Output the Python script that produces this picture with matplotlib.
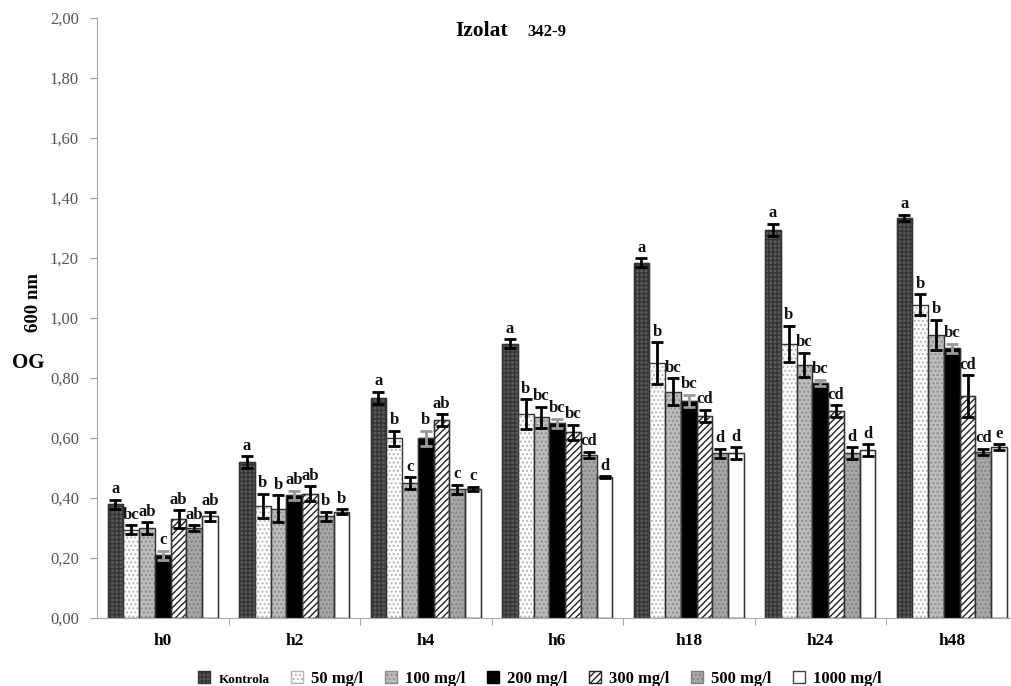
import matplotlib
matplotlib.use("Agg")
import matplotlib.pyplot as plt
import numpy as np

plt.rcParams['hatch.linewidth'] = 1.0

groups = ["h0", "h2", "h4", "h6", "h18", "h24", "h48"]
series = ["Kontrola", "50 mg/l", "100 mg/l", "200 mg/l", "300 mg/l", "500 mg/l", "1000 mg/l"]

kontrola = [0.38, 0.52, 0.735, 0.915, 1.185, 1.295, 1.335]
mg50     = [0.295, 0.375, 0.60, 0.68, 0.85, 0.915, 1.045]
mg100    = [0.30, 0.365, 0.45, 0.67, 0.755, 0.845, 0.945]
mg200    = [0.21, 0.41, 0.60, 0.65, 0.725, 0.785, 0.90]
mg300    = [0.33, 0.415, 0.66, 0.62, 0.675, 0.69, 0.74]
mg500    = [0.30, 0.34, 0.43, 0.545, 0.55, 0.55, 0.555]
mg1000   = [0.34, 0.355, 0.43, 0.47, 0.55, 0.56, 0.57]

err_k    = [0.015, 0.02, 0.02, 0.015, 0.015, 0.02, 0.01]
err_50   = [0.015, 0.04, 0.025, 0.05, 0.07, 0.06, 0.035]
err_100  = [0.02, 0.045, 0.02, 0.035, 0.045, 0.04, 0.05]
err_200  = [0.015, 0.015, 0.025, 0.015, 0.02, 0.01, 0.015]
err_300  = [0.03, 0.025, 0.02, 0.025, 0.02, 0.02, 0.07]
err_500  = [0.01, 0.015, 0.015, 0.01, 0.015, 0.02, 0.01]
err_1000 = [0.015, 0.008, 0.008, 0.003, 0.02, 0.02, 0.01]

let_k    = ["a", "a", "a", "a", "a", "a", "a"]
let_50   = ["bc", "b", "b", "b", "b", "b", "b"]
let_100  = ["ab", "b", "c", "bc", "bc", "bc", "b"]
let_200  = ["c", "ab", "b", "bc", "bc", "bc", "bc"]
let_300  = ["ab", "ab", "ab", "bc", "cd", "cd", "cd"]
let_500  = ["ab", "b", "c", "cd", "d", "d", "cd"]
let_1000 = ["ab", "b", "c", "d", "d", "d", "e"]

values = [kontrola, mg50, mg100, mg200, mg300, mg500, mg1000]
errors = [err_k, err_50, err_100, err_200, err_300, err_500, err_1000]
letters = [let_k, let_50, let_100, let_200, let_300, let_500, let_1000]

styles = [
    dict(facecolor="#5a5a5a", hatch="++++", edgecolor="#333333"),
    dict(facecolor="white", hatch="....", edgecolor="#b5b5b5"),
    dict(facecolor="#bdbdbd", hatch="....", edgecolor="#8a8a8a"),
    dict(facecolor="black", hatch="", edgecolor="black"),
    dict(facecolor="white", hatch="/////", edgecolor="#222222"),
    dict(facecolor="#a8a8a8", hatch="....", edgecolor="#808080"),
    dict(facecolor="white", hatch="", edgecolor="#444444"),
]

serif = ["Liberation Serif", "DejaVu Serif"]

W, H = 1011, 686
fig = plt.figure(figsize=(W / 100, H / 100), dpi=100)
ax = fig.add_axes([97 / W, 1 - 618 / H, 920.5 / W, 600 / H])

x = np.arange(len(groups))
n = len(series)
w = 0.12
for i in range(n):
    pos = x + (i - (n - 1) / 2) * w
    st = styles[i]
    ax.bar(pos, values[i], width=w, facecolor=st["facecolor"], hatch=st["hatch"],
           edgecolor=st["edgecolor"], linewidth=1.0, label=series[i], zorder=2)
    ax.bar(pos, values[i], width=w, facecolor="none", edgecolor="#333333",
           linewidth=0.9, zorder=3)
    ecol = "#999999" if i == 3 else "black"
    ax.errorbar(pos, values[i], yerr=errors[i], fmt="none", ecolor=ecol,
                elinewidth=2, capsize=4, capthick=2, zorder=4)
    for j in range(len(groups)):
        ax.text(pos[j], values[i][j] + errors[i][j] + 0.008, letters[i][j],
                ha="center", va="bottom", fontsize=12, fontweight="bold",
                family=serif, color="#111111", zorder=5)

ax.set_xlim(-0.5, len(groups) - 0.5)
ax.set_ylim(0, 2.0)
yt = np.arange(0, 2.01, 0.2)
ax.set_yticks(yt)
ax.set_yticklabels([f"{v:.2f}".replace(".", ",") for v in yt],
                   family=serif, fontsize=12, color="#555555")
ax.set_xticks(x)
ax.set_xticklabels(groups, family=serif, fontsize=12.5, fontweight="bold")
ax.set_xticks(np.arange(0.5, len(groups) - 0.5, 1), minor=True)
ax.tick_params(axis="x", which="major", length=0, pad=11)
ax.tick_params(axis="x", which="minor", length=5, color="#999999", direction="out")
ax.tick_params(axis="y", length=5, color="#999999", direction="out", pad=8)

for s in ["top", "right"]:
    ax.spines[s].set_visible(False)
ax.spines["left"].set_color("#aaaaaa")
ax.spines["bottom"].set_color("#aaaaaa")

fig.text(455 / W, 1 - 36 / H, "Izolat", family=serif, fontsize=15.5, fontweight="bold",
         ha="left", va="baseline")
fig.text(527 / W, 1 - 36 / H, "342-9", family=serif, fontsize=12, fontweight="bold",
         ha="left", va="baseline")
fig.text(33 / W, 1 - 302 / H, "600 nm", rotation=90, ha="center", va="center",
         family=serif, fontsize=13.5, fontweight="bold")
fig.text(28 / W, 1 - 363 / H, "OG", ha="center", va="center",
         family=serif, fontsize=15, fontweight="bold")

leg = fig.legend(loc="center", bbox_to_anchor=(540 / W, 1 - 679 / H), ncol=7, frameon=False,
                 prop={"family": serif, "weight": "bold", "size": 12},
                 handlelength=0.7, handleheight=0.7, handletextpad=0.5, columnspacing=1.3,
                 borderpad=0, borderaxespad=0)
leg.get_texts()[0].set_fontsize(9.5)

fig.savefig("out.png", dpi=100)
